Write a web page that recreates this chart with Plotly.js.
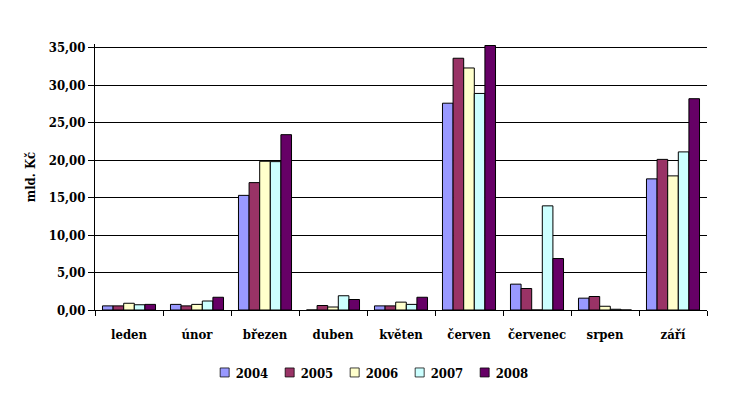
<!DOCTYPE html>
<html><head><meta charset="utf-8">
<script src="https://cdn.plot.ly/plotly-3.0.1.min.js"></script>
<style>body{margin:0;background:#fff}#c{width:740px;height:396px}</style>
</head><body><div id="c"></div>
<script>
var months = ["leden","únor","březen","duben","květen","červen","červenec","srpen","září"];
var years = ["2004","2005","2006","2007","2008"];
var v2004 = [0.55, 0.75, 15.3, 0.0, 0.55, 27.6, 3.45, 1.58, 17.5];
var v2005 = [0.55, 0.55, 17.0, 0.6, 0.55, 33.6, 2.87, 1.8, 20.1];
var v2006 = [0.9, 0.75, 19.85, 0.4, 1.05, 32.3, 0.0, 0.5, 17.9];
var v2007 = [0.7, 1.2, 19.8, 1.9, 0.75, 28.9, 13.9, 0.1, 21.1];
var v2008 = [0.75, 1.7, 23.4, 1.4, 1.7, 35.3, 6.87, 0.0, 28.2];
var colors = ["#9999FF","#993366","#FFFFCC","#CCFFFF","#660066"];
var series = [v2004, v2005, v2006, v2007, v2008];
var font = "DejaVu Serif Condensed, DejaVu Serif";

var data = series.map(function(vals, i){
  return {type:"bar", name:years[i], x:months, y:vals,
    marker:{color:colors[i], line:{color:"#000", width:1}}, hoverinfo:"none"};
});

var layout = {
  width:740, height:396,
  margin:{l:95, r:33, t:44, b:86, autoexpand:false},
  paper_bgcolor:"#fff", plot_bgcolor:"#fff",
  barmode:"group", bargap:0.22, bargroupgap:0,
  font:{family:font, size:13, color:"#000", weight:700},
  showlegend:true,
  legend:{orientation:"h", x:0.43, xanchor:"center", y:-0.235, yanchor:"middle",
    font:{family:font, size:13, color:"#000", weight:700}, itemwidth:30, entrywidth:20, tracegroupgap:0},
  xaxis:{type:"category", tickson:"boundaries", ticks:"outside", ticklen:5, tickcolor:"#000",
    showline:true, linecolor:"#000", linewidth:1, showgrid:false, ticklabelstandoff:12,
    tickangle:0, automargin:false,
    tickfont:{family:font, size:13, color:"#000", weight:700}},
  yaxis:{range:[0,35.5], dtick:5, tick0:0, tickformat:".2f", ticks:"outside", ticklen:6,
    tickcolor:"#000", showline:true, linecolor:"#000", linewidth:1, showgrid:true,
    gridcolor:"#000", gridwidth:1, zeroline:false, automargin:false,
    tickfont:{family:font, size:13, color:"#000", weight:700},
    title:{text:"mld. Kč", font:{family:font, size:13, color:"#000", weight:700}, standoff:10}},
  separators:",."
};
Plotly.newPlot("c", data, layout, {staticPlot:true}).then(function(gd){
  gd.querySelectorAll(".legend [clip-path]").forEach(function(e){ e.removeAttribute("clip-path"); });
  gd.querySelectorAll(".legend .legendpoints").forEach(function(e){ e.setAttribute("transform","translate(14,0) scale(0.75)"); });
});
</script></body></html>
